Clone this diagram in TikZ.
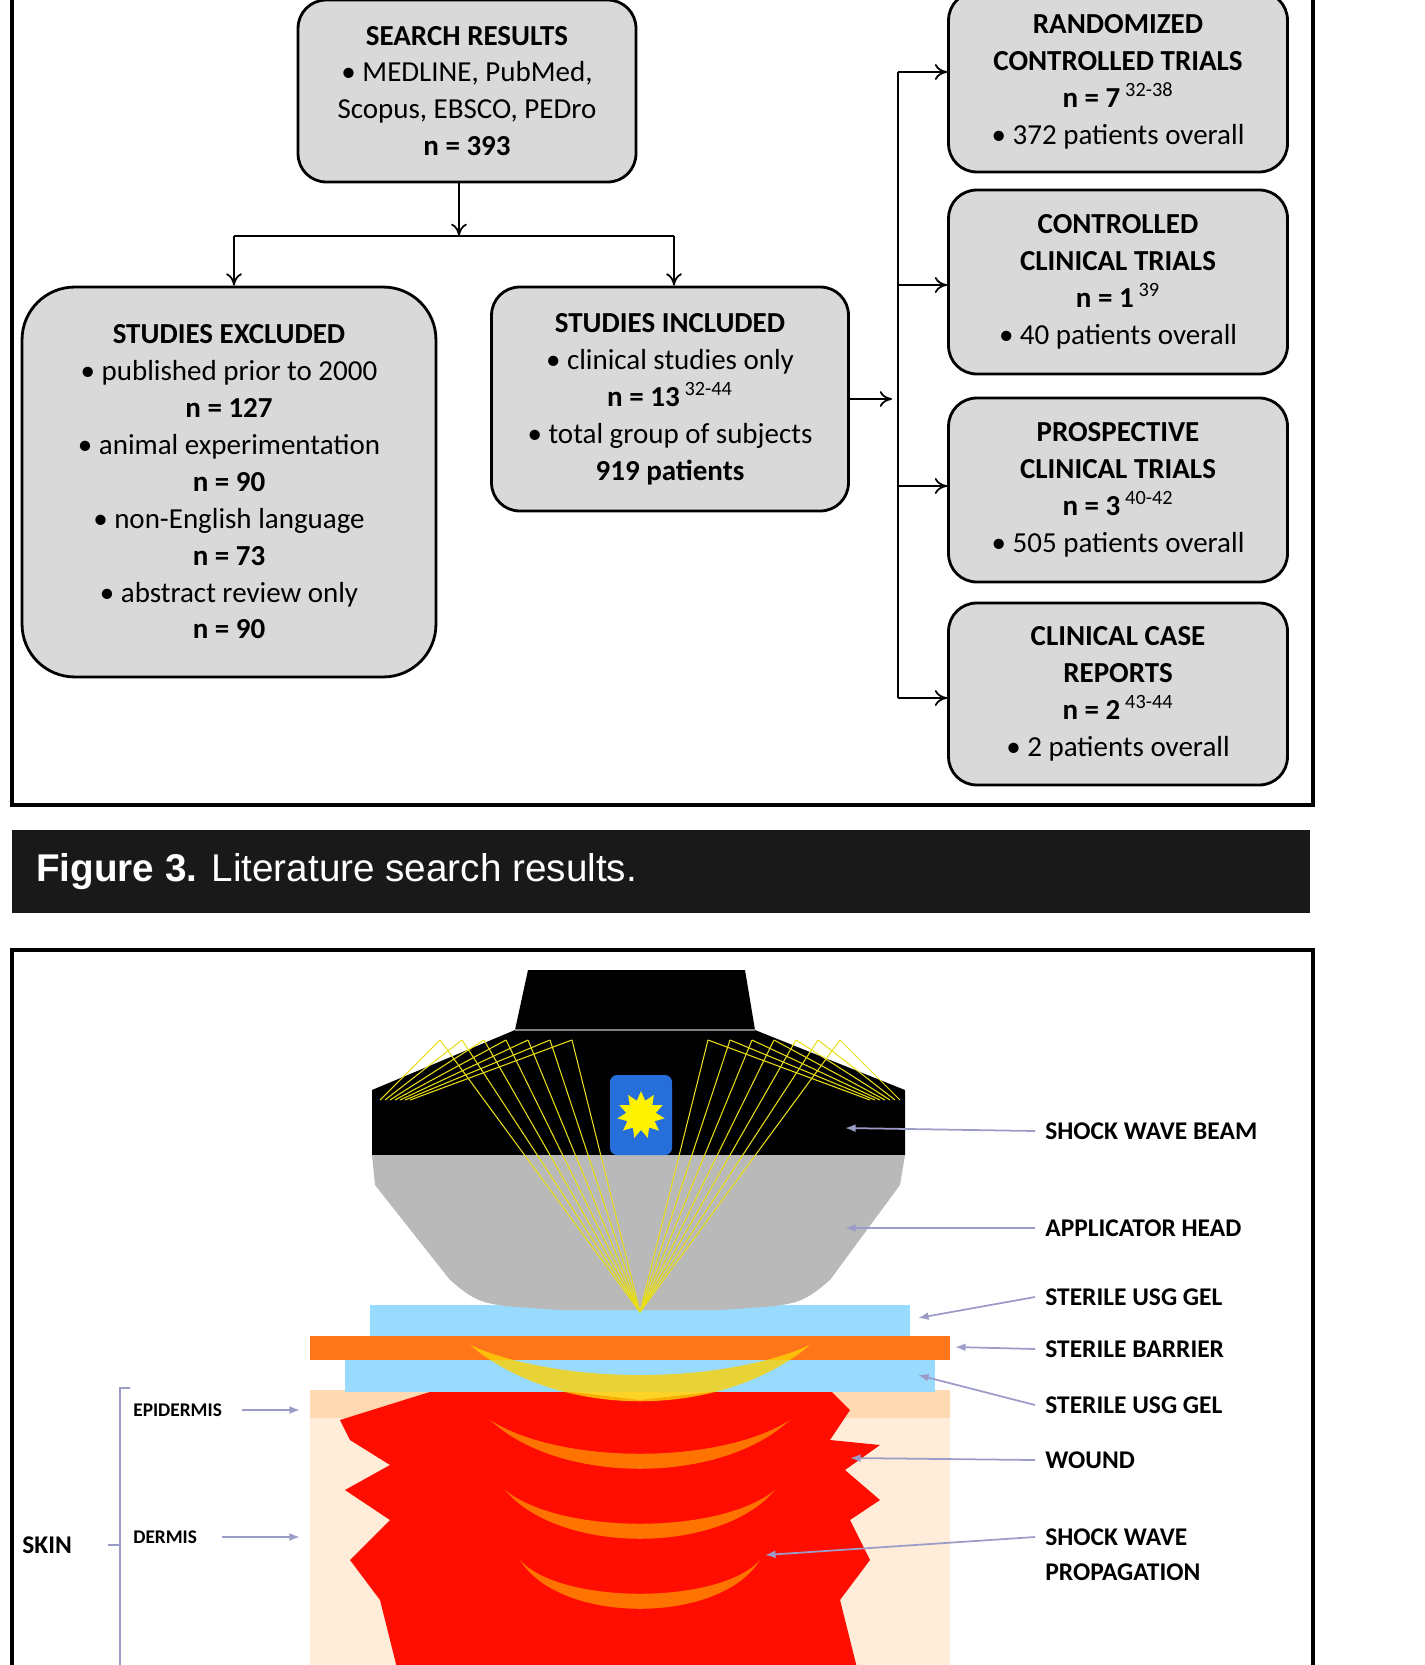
\documentclass[tikz,border=0pt]{standalone}
\usepackage{fontspec}
\setmainfont{Carlito}
\newfontfamily\capfont{Liberation Sans}
\usetikzlibrary{positioning,calc,arrows.meta,shapes.geometric}

\begin{document}
\begin{tikzpicture}[x=0.02cm,y=-0.02cm]
	\tikzstyle{box}=[draw=black, line width=1.6pt, fill=gray!30, rounded corners=16pt, align=center, inner sep=0pt, font=\fontsize{16.5}{21}\selectfont]
	\tikzstyle{flow}=[line width=1pt, -{To[length=7pt,width=9pt]}]
	\tikzstyle{lbl}=[anchor=west, inner sep=0pt, font=\fontsize{14.5}{17}\selectfont\bfseries]
	\tikzstyle{pointer}=[draw=blue!30!gray!60, line width=1pt, -{Latex[length=6pt]}]
	\useasboundingbox (0,0) rectangle (1424,1665);
	\clip (0,0) rectangle (1424,1665);

	% flowchart
	\draw [line width=2pt] (12,-5) rectangle (1313,805);
	\node [box, minimum width=6.76cm, minimum height=3.64cm] (search) at (467,91)
		{\textbf{SEARCH RESULTS}\\\textbullet\ MEDLINE, PubMed,\\Scopus, EBSCO, PEDro\\\textbf{n = 393}};
	\node [box, minimum width=8.28cm, minimum height=7.8cm, rounded corners=30pt] (excl) at (229,482)
		{\textbf{STUDIES EXCLUDED}\\\textbullet\ published prior to 2000\\\textbf{n = 127}\\\textbullet\ animal experimentation\\\textbf{n = 90}\\\textbullet\ non-English language\\\textbf{n = 73}\\\textbullet\ abstract review only\\\textbf{n = 90}};
	\node [box, minimum width=7.14cm, minimum height=4.48cm] (incl) at (670,399)
		{\textbf{STUDIES INCLUDED}\\\textbullet\ clinical studies only\\\textbf{n = 13}\,\textsuperscript{32-44}\\\textbullet\ total group of subjects\\\textbf{919 patients}};
	\node [box, minimum width=6.78cm, minimum height=3.6cm] (rct) at (1118,82)
		{\textbf{RANDOMIZED}\\\textbf{CONTROLLED TRIALS}\\\textbf{n = 7}\,\textsuperscript{32-38}\\\textbullet\ 372 patients overall};
	\node [box, minimum width=6.78cm, minimum height=3.68cm] (cct) at (1118,282)
		{\textbf{CONTROLLED}\\\textbf{CLINICAL TRIALS}\\\textbf{n = 1}\,\textsuperscript{39}\\\textbullet\ 40 patients overall};
	\node [box, minimum width=6.78cm, minimum height=3.68cm] (pct) at (1118,490)
		{\textbf{PROSPECTIVE}\\\textbf{CLINICAL TRIALS}\\\textbf{n = 3}\,\textsuperscript{40-42}\\\textbullet\ 505 patients overall};
	\node [box, minimum width=6.78cm, minimum height=3.64cm] (ccr) at (1118,694)
		{\textbf{CLINICAL CASE}\\\textbf{REPORTS}\\\textbf{n = 2}\,\textsuperscript{43-44}\\\textbullet\ 2 patients overall};

	\coordinate (split) at (459,236);
	\coordinate (rail) at (892,399);
	\draw [flow] (search.south -| split) -- (split);
	\draw [line width=1pt] (234,236) -- (674,236);
	\draw [flow] (234,236) -- (excl.north -| 234,0);
	\draw [flow] (674,236) -- (incl.north -| 674,0);
	\draw [flow] (incl.east) -- (rail);
	\draw [line width=1pt] (898,72) -- (898,698);
	\foreach \n/\y in {rct/72, cct/285, pct/486, ccr/698}
		\draw [flow] (898,\y) -- (\n.west |- 0,\y);

	% caption
	\fill [black!90] (12,830) rectangle (1310,913);
	\node [anchor=west, text=white, font=\capfont\fontsize{22}{26}\selectfont] (cap) at (30,872)
		{\textbf{Figure 3.} Literature search results.};

	% second figure
	\draw [line width=2pt] (12,1685) -- (12,950) -- (1313,950) -- (1313,1685);
	\fill [orange!15] (310,1390) rectangle (950,1680);
	\fill [orange!30] (310,1390) rectangle (950,1418);
	\fill [red!90!orange] (340,1420) -- (420,1395) -- (470,1380) -- (640,1400) -- (820,1380) -- (850,1410)
		-- (830,1440) -- (880,1445) -- (845,1470) -- (880,1500) -- (850,1520) -- (870,1560) -- (840,1600)
		-- (860,1680) -- (400,1680) -- (380,1600) -- (350,1560) -- (390,1520) -- (345,1490) -- (390,1465)
		-- (350,1440) -- cycle;
	\foreach \r in {0,1,2}
		\fill [orange!90!red] ($(640,1420+\r*70)+(-150+\r*15,0)$) .. controls (560,1485+\r*70) and (720,1485+\r*70) .. ($(640,1420+\r*70)+(150-\r*15,0)$)
			.. controls (720,1465+\r*70) and (560,1465+\r*70) .. cycle;
	\fill [blue!35!cyan!40] (370,1305) rectangle (910,1336);
	\fill [orange!80!red!90] (310,1336) rectangle (950,1360);
	\fill [blue!35!cyan!40] (345,1360) rectangle (935,1392);
	\fill [yellow!70!orange, opacity=0.8] (470,1345) .. controls (560,1420) and (720,1420) .. (810,1345)
		.. controls (720,1385) and (560,1385) .. cycle;
	\fill [black] (528,970) -- (745,970) -- (755,1030) -- (515,1030) -- cycle;
	\fill [black] (515,1030) -- (755,1030) -- (905,1090) -- (905,1155) -- (372,1155) -- (372,1090) -- cycle;
	\draw [gray, line width=1pt] (515,1030) -- (755,1030);
	\fill [gray!55] (372,1155) -- (905,1155) -- (900,1185) -- (830,1280) .. controls (800,1305) .. (720,1310)
		-- (560,1310) .. controls (480,1305) .. (450,1280) -- (375,1185) -- cycle;
	\coordinate (focus) at (640,1312);
	\foreach \x in {0,...,6} {
		\draw [yellow!90!black, line width=0.6pt] (440+\x*22,1040) -- (380+\x*5,1100);
		\draw [yellow!90!black, line width=0.6pt] (840-\x*22,1040) -- (900-\x*5,1100);
		\draw [yellow!90!black, line width=0.6pt] (440+\x*22,1040) -- (focus);
		\draw [yellow!90!black, line width=0.6pt] (840-\x*22,1040) -- (focus);
	}
	\fill [blue!60!cyan!70!gray, rounded corners=4pt] (610,1075) rectangle (672,1155);
	\node [star, star points=11, star point ratio=1.6, fill=yellow, inner sep=6pt] (burst) at (641,1115) {};

	\foreach \t/\y/\tx/\ty in {SHOCK WAVE BEAM/1131/845/1128, APPLICATOR HEAD/1228/845/1228,
		STERILE USG GEL/1297/918/1318, STERILE BARRIER/1349/955/1347, STERILE USG GEL/1405/918/1375,
		WOUND/1460/850/1458, SHOCK WAVE/1537/765/1555} {
		\node [lbl] (t) at (1045,\y) {\t};
		\draw [pointer] (1035,\y) -- (\tx,\ty);
	}
	\node [lbl] (prop) at (1045,1572) {PROPAGATION};
	\node [lbl, font=\fontsize{11}{13}\selectfont\bfseries] (epi) at (133,1410) {EPIDERMIS};
	\draw [pointer] (242,1410) -- (300,1410);
	\node [lbl, font=\fontsize{11}{13}\selectfont\bfseries] (der) at (133,1537) {DERMIS};
	\draw [pointer] (222,1537) -- (300,1537);
	\node [lbl] (skin) at (22,1545) {SKIN};
	\draw [blue!30!gray!60, line width=1pt] (130,1388) -- (120,1388) -- (120,1680);
	\draw [blue!30!gray!60, line width=1pt] (108,1545) -- (120,1545);
\end{tikzpicture}
\end{document}
